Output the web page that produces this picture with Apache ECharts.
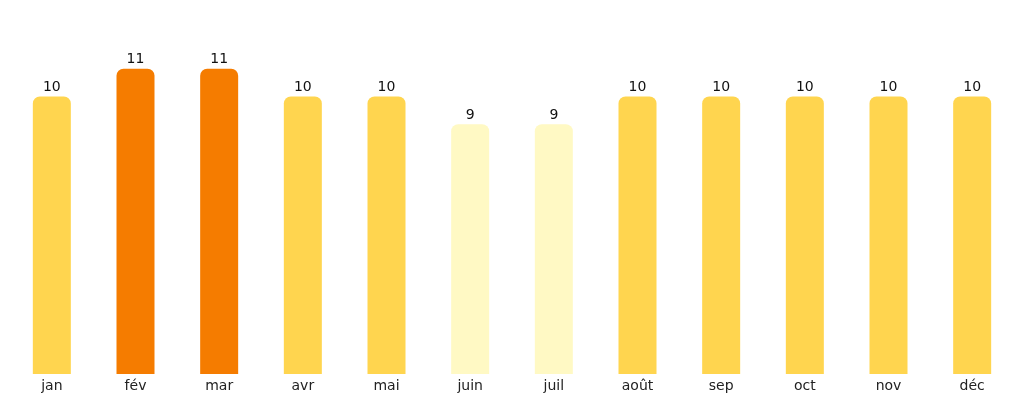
<!DOCTYPE html>
<html>
<head>
<meta charset="utf-8">
<script src="https://cdn.jsdelivr.net/npm/echarts@6/dist/echarts.min.js"></script>
<style>
  html, body { margin: 0; padding: 0; background: #fff; }
  #chart { width: 1024px; height: 404px; }
</style>
</head>
<body>
<div id="chart"></div>
<script>
var months = ['jan', 'fév', 'mar', 'avr', 'mai', 'juin', 'juil', 'août', 'sep', 'oct', 'nov', 'déc'];
var counts = [10, 11, 11, 10, 10, 9, 9, 10, 10, 10, 10, 10];

// colour by value, like the original
function colorFor(v) {
    if (v >= 11) return '#F57C00';
    if (v <= 9) return '#FFF9C4';
    return '#FFD54F';
}

var chart = echarts.init(document.getElementById('chart'));
var option = {
    animation: false,
    grid: { left: 10, right: 10, top: 41, bottom: 30, containLabel: false },
    xAxis: {
        type: 'category',
        data: months,
        axisLine: { show: false },
        axisTick: { show: false },
        axisLabel: { color: '#222', fontSize: 14, fontFamily: 'DejaVu Sans', margin: 5 }
    },
    yAxis: {
        type: 'value',
        min: 0,
        max: 12,
        show: false,
        splitLine: { show: false }
    },
    series: [{
        type: 'bar',
        barWidth: 38,
        data: counts.map(function (v) {
            return { value: v, itemStyle: { color: colorFor(v) } };
        }),
        itemStyle: { borderRadius: [7, 7, 0, 0] },
        label: {
            show: true,
            position: 'top',
            distance: 2,
            color: '#111',
            fontSize: 14,
            fontFamily: 'DejaVu Sans'
        }
    }]
};
chart.setOption(option);
</script>
</body>
</html>
